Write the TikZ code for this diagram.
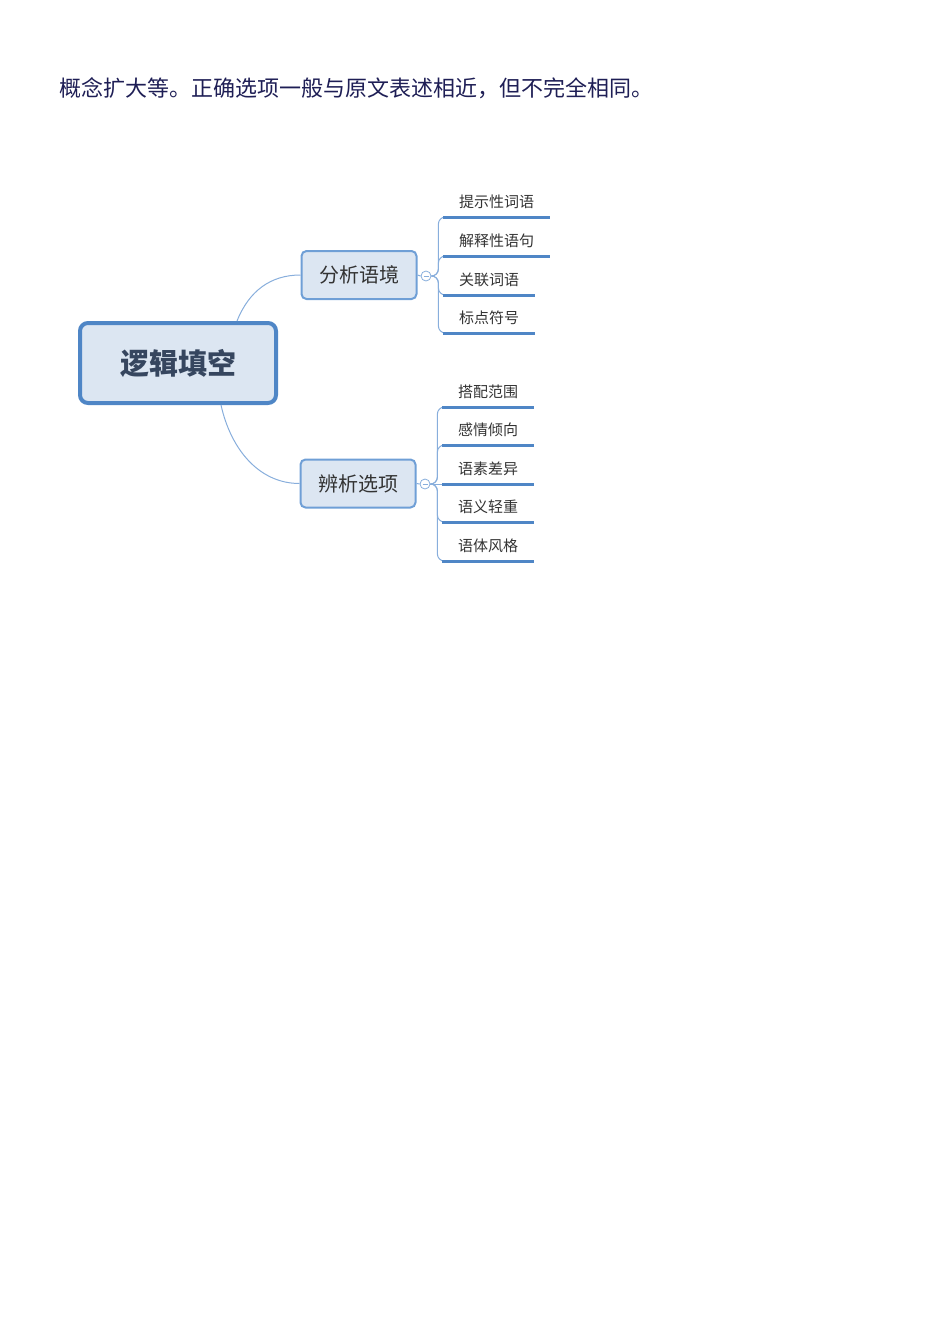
\documentclass[tikz,border=0pt]{standalone}
\usepackage{fontspec}
\setmainfont{Noto Sans CJK SC}
\begin{document}
\begin{tikzpicture}[x=1pt,y=-1pt,
  every node/.style={inner sep=0pt},
  rootbox/.style={draw=rootc, line width=4pt, fill=boxfill, rounded corners=8pt,
    minimum width=196pt, minimum height=80pt, text=roottxt,
    font=\fontsize{29}{32}\selectfont\bfseries},
  subbox/.style={draw=subc, line width=2pt, fill=boxfill, rounded corners=5pt,
    minimum width=115pt, minimum height=48pt, text=txt,
    font=\fontsize{20}{24}\selectfont},
  fold/.style={circle, draw=branchc, line width=0.8pt, fill=white, minimum size=10pt},
  leaf/.style={anchor=south west, inner xsep=16pt, inner ysep=6pt, text height=11pt,
    text depth=3pt, font=\fontsize{15}{18}\selectfont, text=txt},
  uline/.style={draw=linec, line width=3pt},
  branch/.style={draw=branchc, line width=1pt, rounded corners=7pt},
  trunk/.style={draw=branchc, line width=1pt}
]
\definecolor{rootc}{HTML}{4F86C6}
\definecolor{subc}{HTML}{6F9FD6}
\definecolor{boxfill}{HTML}{DCE6F2}
\definecolor{roottxt}{HTML}{36465F}
\definecolor{txt}{HTML}{333333}
\definecolor{linec}{HTML}{4F86C6}
\definecolor{branchc}{HTML}{88AEDC}
\definecolor{headc}{HTML}{1E1E55}
\useasboundingbox (0,0) rectangle (950,1344);

\node[anchor=west, text=headc, font=\fontsize{22}{26}\selectfont] (head) at (59,88) {概念扩大等。正确选项一般与原文表述相近，但不完全相同。};

\node[rootbox] (root) at (178,363) {逻辑填空};
\node[subbox] (s1) at (359,275) {分析语境};
\node[subbox] (s2) at (358,483.5) {辨析选项};

\draw[trunk] ([xshift=59pt]root.north) .. controls +(12,-30) and +(-30,0) .. (s1.west);
\draw[trunk] ([xshift=43pt]root.south) .. controls +(10,45) and +(-40,0) .. (s2.west);

\node[fold] (c1) at (426,276) {};
\node[fold] (c2) at (425,484) {};
\draw[trunk] (s1.east) -- (c1.west);
\draw[trunk] (s2.east) -- (c2.west);
\draw[branchc, line width=0.8pt] ([xshift=-2.5pt]c1.center) -- ([xshift=2.5pt]c1.center);
\draw[branchc, line width=0.8pt] ([xshift=-2.5pt]c2.center) -- ([xshift=2.5pt]c2.center);

% leaves of 分析语境
\node[leaf] (a1) at (443,217) {提示性词语};
\node[leaf] (a2) at (443,256) {解释性语句};
\node[leaf] (a3) at (443,295) {关联词语};
\node[leaf] (a4) at (443,333) {标点符号};
% leaves of 辨析选项
\node[leaf] (b1) at (442,407) {搭配范围};
\node[leaf] (b2) at (442,445) {感情倾向};
\node[leaf] (b3) at (442,484) {语素差异};
\node[leaf] (b4) at (442,522) {语义轻重};
\node[leaf] (b5) at (442,561) {语体风格};

\foreach \n in {a1,a2,a3,a4}{
  \draw[branch] (c1.east) -- ++(7,0) |- (\n.south west);
  \draw[uline] (\n.south west) -- (\n.south east);
}
\foreach \n in {b1,b2,b4,b5}{
  \draw[branch] (c2.east) -- ++(7,0) |- (\n.south west);
}
\draw[branch] (c2.east) -- (b3.south west);
\foreach \n in {b1,b2,b3,b4,b5}{
  \draw[uline] (\n.south west) -- (\n.south east);
}
\end{tikzpicture}
\end{document}
